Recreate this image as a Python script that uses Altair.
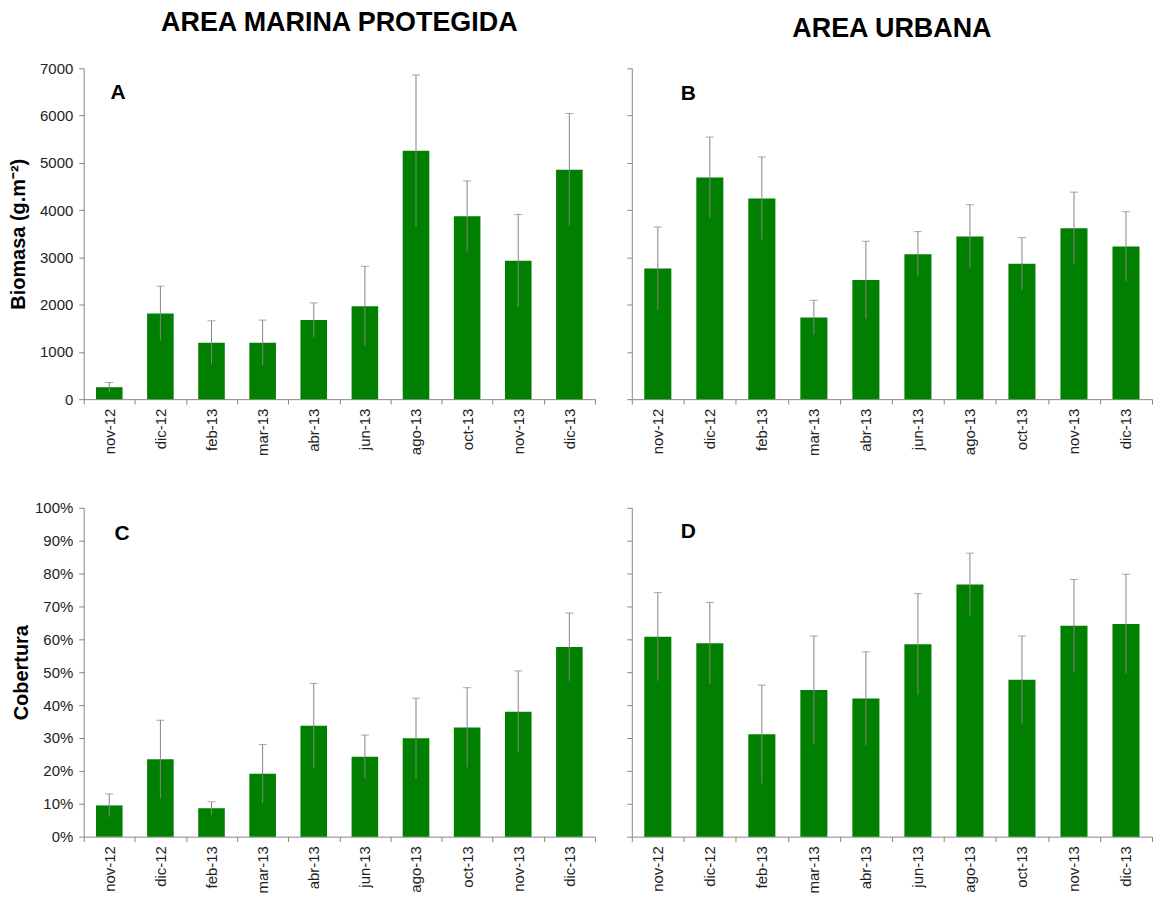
import altair as alt
import pandas as pd

# Sampling months (shared by all four panels)
months = ["nov-12", "dic-12", "feb-13", "mar-13", "abr-13",
          "jun-13", "ago-13", "oct-13", "nov-13", "dic-13"]

# Biomass (g.m-2): mean and error
amp_biomasa = [253, 1813, 1195, 1195, 1673, 1968, 5257, 3872, 2931, 4856]
amp_biomasa_err = [100, 577, 464, 478, 365, 843, 1602, 745, 977, 1188]
urb_biomasa = [2766, 4690, 4247, 1727, 2520, 3068, 3440, 2864, 3615, 3229]
urb_biomasa_err = [877, 856, 878, 365, 822, 477, 674, 555, 765, 737]

# Cover (%): mean and error
amp_cobertura = [9.5, 23.5, 8.6, 19.1, 33.7, 24.3, 29.9, 33.2, 38.0, 57.7]
amp_cobertura_err = [3.5, 11.9, 2.0, 8.9, 12.9, 6.6, 12.2, 12.1, 12.4, 10.3]
urb_cobertura = [60.8, 58.8, 31.1, 44.6, 42.0, 58.5, 76.7, 47.7, 64.1, 64.7]
urb_cobertura_err = [13.4, 12.4, 15.0, 16.4, 14.2, 15.4, 9.5, 13.3, 14.1, 15.1]

FONT = "Liberation Sans"
GREEN = "#007f00"
ERR = "#858585"
AXIS = "#868686"
LABEL = "#222222"


def panel(mean, err, letter, lx, ly, ymax, step, width, height,
          show_labels, ytitle, title=None, title_offset=24, pct=False,
          title_pad=11):
    df = pd.DataFrame({
        "mes": months,
        "v": mean,
        "lo": [m - e for m, e in zip(mean, err)],
        "hi": [m + e for m, e in zip(mean, err)],
    })
    xscale = alt.Scale(paddingInner=0, paddingOuter=0)
    x_axis = alt.X(
        "mes:N", sort=months, scale=xscale,
        axis=alt.Axis(title=None, labelAngle=270, tickBand="extent",
                      labelFontSize=15, labelFont=FONT, labelColor=LABEL,
                      labelPadding=4, tickSize=5, domainColor=AXIS,
                      tickColor=AXIS),
    )
    x_plain = alt.X("mes:N", sort=months, scale=xscale)
    yaxis = alt.Axis(
        values=list(range(0, ymax + 1, step)), labels=show_labels,
        title=ytitle, grid=False, labelFontSize=15, labelFont=FONT,
        labelColor=LABEL, tickSize=5, domainColor=AXIS, tickColor=AXIS,
        titleFont=FONT, titleFontSize=20, titleFontWeight="bold",
        titleColor="#000000", titlePadding=title_pad, labelPadding=6,
        labelExpr="datum.value + '%'" if pct else "'' + datum.value",
    )
    yscale = alt.Scale(domain=[0, ymax], nice=False)
    base = alt.Chart(df)
    bars = base.mark_bar(color=GREEN, width={"band": 0.52}).encode(
        x=x_axis, y=alt.Y("v:Q", scale=yscale, axis=yaxis))
    rule = base.mark_rule(color=ERR, strokeWidth=1).encode(
        x=x_plain, y=alt.Y("lo:Q", scale=yscale, axis=yaxis), y2="hi:Q")
    cap = base.mark_tick(color=ERR, size=8, thickness=1).encode(
        x=x_plain, y=alt.Y("hi:Q", scale=yscale, axis=yaxis))
    tag = alt.Chart(pd.DataFrame({"t": [letter]})).mark_text(
        font=FONT, fontSize=21, fontWeight="bold", align="left",
        baseline="alphabetic", color="#000000",
    ).encode(text="t:N", x=alt.value(lx), y=alt.value(ly))
    props = dict(width=width, height=height)
    if title:
        props["title"] = alt.TitleParams(
            title, font=FONT, fontSize=27, fontWeight="bold",
            anchor="middle", frame="group", offset=title_offset,
            color="#000000")
    return alt.layer(bars, rule, cap, tag).properties(**props)


a = panel(amp_biomasa, amp_biomasa_err, "A", 27, 31, 7000, 1000, 513, 332,
          True, "Biomasa (g.m⁻²)", "AREA MARINA PROTEGIDA", title_offset=24)
b = panel(urb_biomasa, urb_biomasa_err, "B", 49, 32, 7000, 1000, 522, 332,
          False, None, "AREA URBANA", title_offset=25)
c = panel(amp_cobertura, amp_cobertura_err, "C", 31, 32, 100, 10, 513, 330,
          True, "Cobertura", pct=True, title_pad=3)
d = panel(urb_cobertura, urb_cobertura_err, "D", 49, 30, 100, 10, 522, 330,
          False, None, pct=True)

chart = alt.concat(a, b, c, d, columns=2,
                   spacing={"row": 45, "column": 29}).properties(
    padding={"left": 8, "top": 8, "right": 0, "bottom": 0}
).configure_view(stroke=None)

chart.save("out.html", embed_options={"renderer": "svg", "actions": False})
